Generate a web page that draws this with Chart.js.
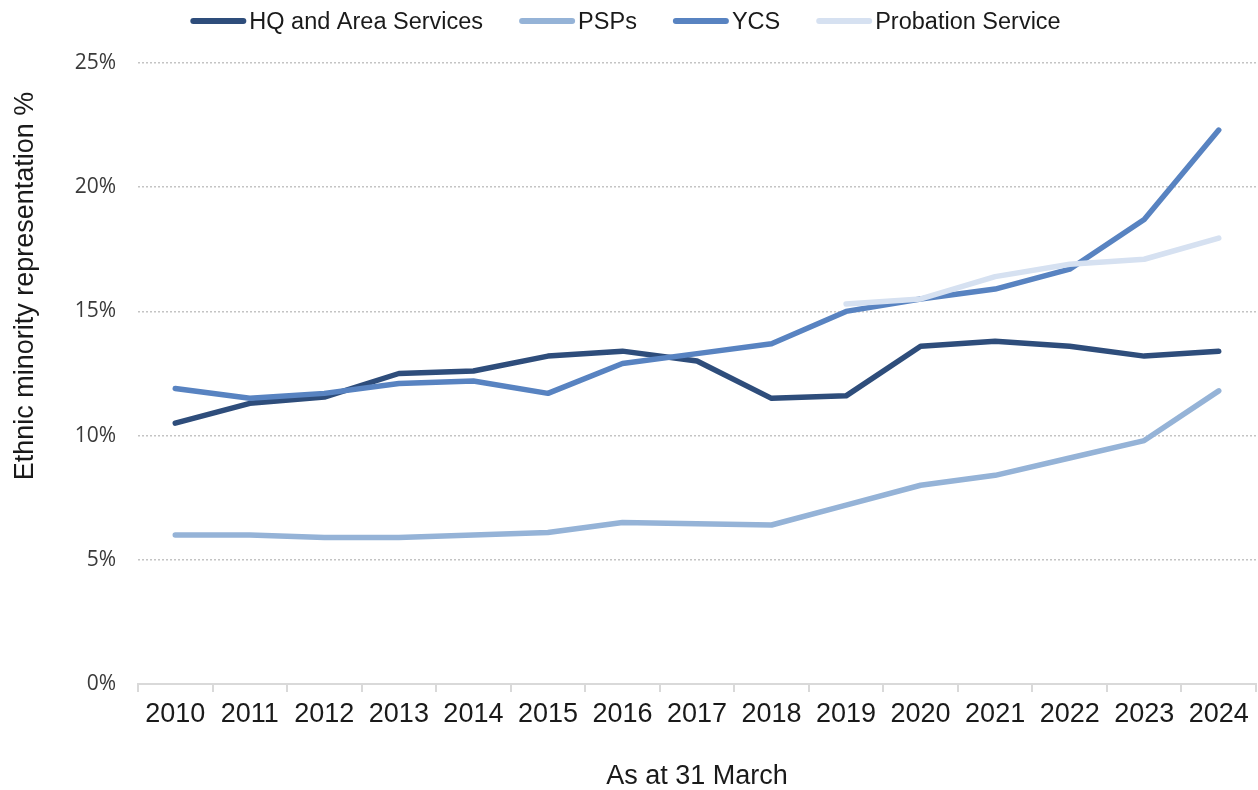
<!DOCTYPE html>
<html><head><meta charset="utf-8">
<script src="https://cdn.jsdelivr.net/npm/chart.js@4"></script>
<style>html,body{margin:0;padding:0;background:#fff;} #wrap{width:1258px;height:790px;position:relative;}</style>
</head><body><div id="wrap"><canvas id="c" width="1258" height="790"></canvas></div>
<script>
const categories = ['2010','2011','2012','2013','2014','2015','2016','2017','2018','2019','2020','2021','2022','2023','2024'];
const hqValues = [10.5, 11.3, 11.55, 12.5, 12.6, 13.2, 13.4, 13.0, 11.5, 11.6, 13.6, 13.8, 13.6, 13.2, 13.4];
const pspValues = [6.0, 6.0, 5.9, 5.9, 6.0, 6.1, 6.5, 6.45, 6.4, 7.2, 8.0, 8.4, 9.1, 9.8, 11.8];
const ycsValues = [11.9, 11.5, 11.7, 12.1, 12.2, 11.7, 12.9, 13.3, 13.7, 15.0, 15.5, 15.9, 16.7, 18.7, 22.3];
const probationValues = [null, null, null, null, null, null, null, null, null, 15.3, 15.5, 16.4, 16.9, 17.1, 17.95];
const seriesNames = ['HQ and Area Services', 'PSPs', 'YCS', 'Probation Service'];
const seriesColors = ['#2E4D7B', '#95B3D7', '#5883C1', '#D6E1F1'];
const yTickValues = [0, 5, 10, 15, 20, 25];
const xTitle = 'As at 31 March';
const yTitle = 'Ethnic minority representation %';

const seriesValues = [hqValues, pspValues, ycsValues, probationValues];
const datasets = seriesNames.map((name, i) => ({
  label: name,
  data: seriesValues[i],
  borderColor: seriesColors[i],
  backgroundColor: seriesColors[i],
  borderWidth: 5.5,
  borderCapStyle: 'round',
  borderJoinStyle: 'round',
  pointRadius: 0,
  tension: 0,
  fill: false,
  spanGaps: false,
  order: seriesNames.length - i
}));

const customDecor = {
  id: 'customDecor',
  afterDraw(chart) {
    const ctx = chart.ctx;
    ctx.save();
    ctx.font = '23.5px "Liberation Sans", Arial, sans-serif';
    ctx.textBaseline = 'middle';
    ctx.textAlign = 'left';
    const lineLen = 56, gapText = 3, gapItem = 36;
    const items = chart.data.datasets.map(d => ({text: d.label, color: d.borderColor, w: ctx.measureText(d.label).width}));
    const total = items.reduce((a, it) => a + lineLen + gapText + it.w, 0) + gapItem * (items.length - 1);
    let x = chart.width / 2 - 3.5 - total / 2;
    items.forEach(it => {
      ctx.strokeStyle = it.color;
      ctx.lineWidth = 6;
      ctx.lineCap = 'round';
      ctx.beginPath();
      ctx.moveTo(x + 3, 21);
      ctx.lineTo(x + lineLen - 3, 21);
      ctx.stroke();
      ctx.fillStyle = '#1a1a1a';
      ctx.fillText(it.text, x + lineLen + gapText, 23);
      x += lineLen + gapText + it.w + gapItem;
    });
    ctx.translate(26, 286);
    ctx.rotate(-Math.PI / 2);
    ctx.textAlign = 'center';
    ctx.font = '27px "Liberation Sans", Arial, sans-serif';
    ctx.fillText(yTitle, 0, 0);
    ctx.restore();
  }
};

new Chart(document.getElementById('c'), {
  type: 'line',
  data: { labels: categories, datasets },
  options: {
    responsive: false,
    animation: false,
    devicePixelRatio: 1,
    layout: { padding: { top: 63, right: 2, left: 0, bottom: 0 } },
    plugins: { legend: { display: false }, tooltip: { enabled: false } },
    scales: {
      x: {
        type: 'category',
        offset: true,
        grid: { display: true, drawOnChartArea: false, drawTicks: true, tickLength: 8, color: '#D9D9D9', lineWidth: 2, offset: true },
        border: { display: true, color: '#D9D9D9', width: 2 },
        ticks: { font: { family: 'Liberation Sans', size: 27 }, color: '#1a1a1a', padding: 6, maxRotation: 0, autoSkip: false },
        title: { display: true, text: xTitle, font: { family: 'Liberation Sans', size: 27, lineHeight: 0.9 }, color: '#1a1a1a', padding: { top: 0, bottom: 1 } },
        afterFit(s) { s.height = 106; }
      },
      y: {
        min: 0, max: 25,
        afterBuildTicks(s) { s.ticks = yTickValues.map(v => ({ value: v })); },
        ticks: { callback: v => v + '%', font: { family: 'Open Sans', size: 21 }, color: '#3a3a3a', padding: 22 },
        grid: { drawTicks: false, color: c => (c.tick && c.tick.value === 0) ? 'rgba(0,0,0,0)' : '#C4C4C4', lineWidth: 1.5 },
        border: { display: false, dash: [2, 2] },
        afterFit(s) { s.width = 138; }
      }
    }
  },
  plugins: [customDecor]
});
</script></body></html>
